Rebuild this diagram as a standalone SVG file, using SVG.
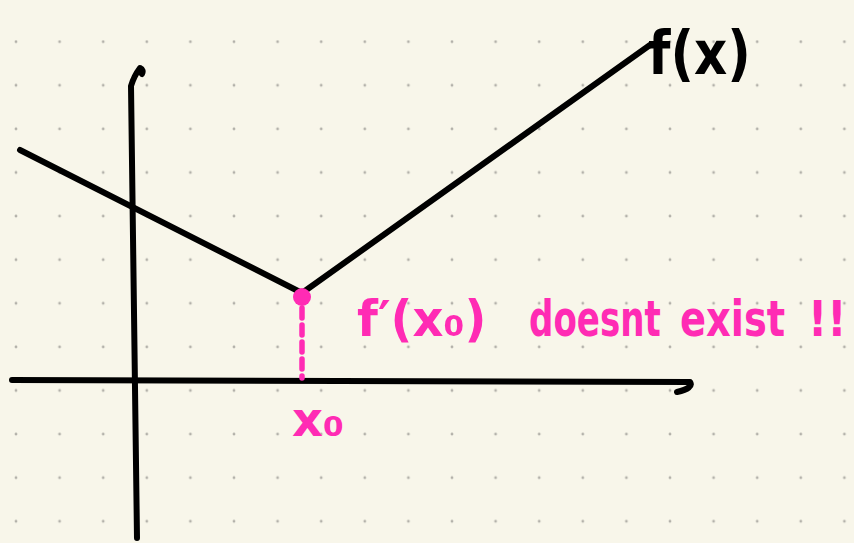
<svg xmlns="http://www.w3.org/2000/svg" width="854" height="543" viewBox="0 0 854 543">
<defs>
<pattern id="dots" x="16" y="41.7" width="43.6" height="43.6" patternUnits="userSpaceOnUse">
<circle cx="0" cy="0" r="1.4" fill="#b3b1aa"/>
<circle cx="43.6" cy="0" r="1.4" fill="#b3b1aa"/>
<circle cx="0" cy="43.6" r="1.4" fill="#b3b1aa"/>
<circle cx="43.6" cy="43.6" r="1.4" fill="#b3b1aa"/>
</pattern>
<style>
.ink{fill:none;stroke:#000;stroke-width:6;stroke-linecap:round;stroke-linejoin:round}
.pink{fill:none;stroke:#ff2bb4;stroke-width:5.5;stroke-linecap:round}
.ptext{fill:#ff2bb4;font-family:"DejaVu Sans",sans-serif;font-weight:bold;font-size:48px}
.btext{fill:#000;font-family:"DejaVu Sans",sans-serif;font-weight:bold}
</style>
</defs>
<rect width="854" height="543" fill="#f8f6ea"/>
<rect x="14" y="40" width="834" height="484" fill="url(#dots)"/>
<g id="connectors">
<path id="y-axis" class="ink" d="M137 538 L131 86 Q134 76 140 68 Q144 70 142 74"/>
<path id="x-axis" class="ink" d="M12 380 L690 382 Q694 388 677 392"/>
<path id="f-left" class="ink" d="M20 150 L302 293"/>
<path id="f-right" class="ink" d="M302 293 L650 45"/>
<path id="drop" class="pink" d="M302 308 L302 378" stroke-dasharray="10 7"/>
</g>
<g id="point">
<circle cx="302" cy="297" r="9" fill="#ff2bb4"/>
</g>
<g id="label-fx">
<text class="btext" transform="translate(648 74) scale(0.86 1)" font-size="60">f(x)</text>
</g>
<g id="label-note">
<text class="ptext" transform="translate(357 336) scale(1 1.05)" font-size="50">f′(x₀)</text>
<text class="ptext" transform="translate(529 336) scale(0.71 1.05)">doesnt</text>
<text class="ptext" transform="translate(680 336) scale(0.8 1.05)">exist</text>
<text class="ptext" transform="translate(808 336) scale(0.88 1.05)">!!</text>
</g>
<g id="label-x0">
<text class="ptext" x="292" y="436" font-size="46">x₀</text>
</g>
</svg>
